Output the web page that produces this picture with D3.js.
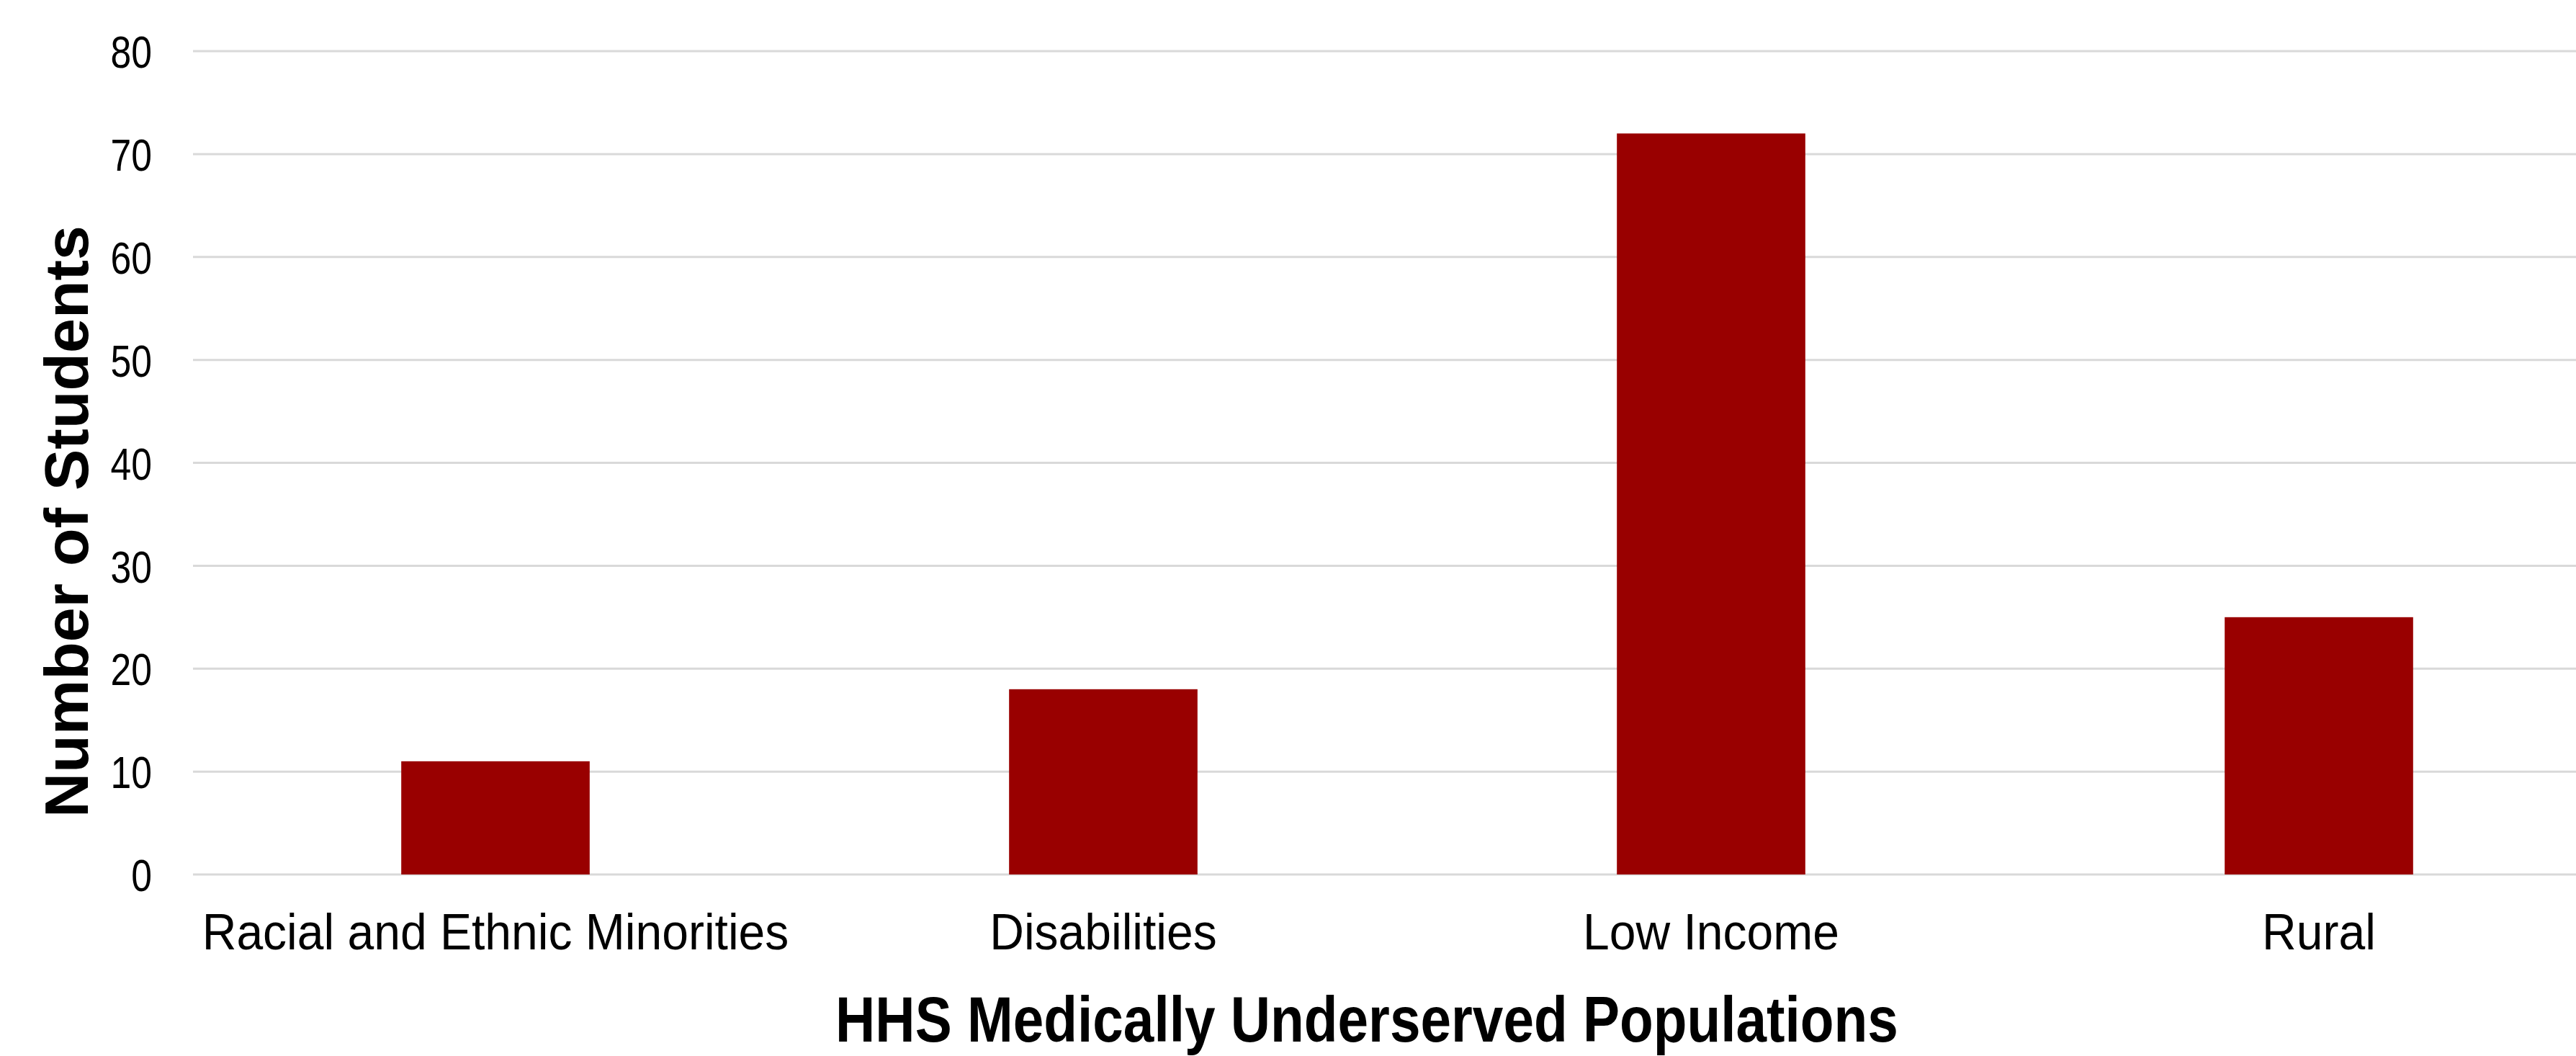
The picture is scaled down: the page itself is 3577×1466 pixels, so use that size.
<!DOCTYPE html>
<html>
<head>
<meta charset="utf-8">
<script src="https://cdn.jsdelivr.net/npm/d3@7"></script>
<style>
  html, body { margin: 0; padding: 0; background: #fff; }
  svg { display: block; }
  text { font-family: "Liberation Sans", Arial, Helvetica, sans-serif; fill: #000; }
</style>
</head>
<body>
<svg id="chart" width="3577" height="1466"></svg>
<script>
const categories = ["Racial and Ethnic Minorities", "Disabilities", "Low Income", "Rural"];
const students = [11, 18, 72, 25];
const yTicks = [0, 10, 20, 30, 40, 50, 60, 70, 80];
const xTitle = "HHS Medically Underserved Populations";
const yTitle = "Number of Students";

const W = 3577, H = 1466;
const svg = d3.select("#chart");

const plotLeft = 268, plotRight = W;
const y = d3.scaleLinear().domain([0, 80]).range([1214, 71]);
const x = d3.scaleBand().domain(categories)
  .range([266, 266 + 4 * 844])
  .paddingInner(0.69).paddingOuter(0.345);

// gridlines
svg.append("g").selectAll("line").data(yTicks).join("line")
  .attr("x1", plotLeft).attr("x2", plotRight)
  .attr("y1", d => y(d)).attr("y2", d => y(d))
  .attr("stroke", "#d9d9d9").attr("stroke-width", 3);

// y axis labels
const yAxis = d3.axisLeft(y).tickValues(yTicks).tickSize(0).tickPadding(0);
const yg = svg.append("g").attr("transform", "translate(211,0)").call(yAxis);
yg.select(".domain").remove();
yg.selectAll("text").attr("font-size", 63).attr("dy", "0.36em")
  .attr("transform", "scale(0.82,1)")
  .style("font-family", "'Liberation Sans', Arial, sans-serif").attr("fill", "#000");

// bars
svg.append("g").selectAll("rect").data(categories).join("rect")
  .attr("x", d => x(d)).attr("width", x.bandwidth())
  .attr("y", (d, i) => y(students[i]))
  .attr("height", (d, i) => y(0) - y(students[i]))
  .attr("fill", "#990000");

// x axis labels
const xAxis = d3.axisBottom(x).tickSize(0).tickPadding(0);
const xg = svg.append("g").attr("transform", "translate(0,1318)").call(xAxis);
xg.select(".domain").remove();
xg.selectAll("text").attr("font-size", 71).attr("dy", 0).attr("y", 0)
  .attr("transform", "scale(0.93,1)")
  .style("font-family", "'Liberation Sans', Arial, sans-serif").attr("fill", "#000");

// axis titles
svg.append("text")
  .attr("transform", "translate(1898,1446) scale(0.86,1)")
  .attr("text-anchor", "middle").attr("font-size", 89).attr("font-weight", "bold")
  .text(xTitle);

svg.append("text")
  .attr("transform", "translate(122,724) rotate(-90)")
  .attr("text-anchor", "middle").attr("font-size", 86).attr("font-weight", "bold")
  .text(yTitle);
</script>
</body>
</html>
